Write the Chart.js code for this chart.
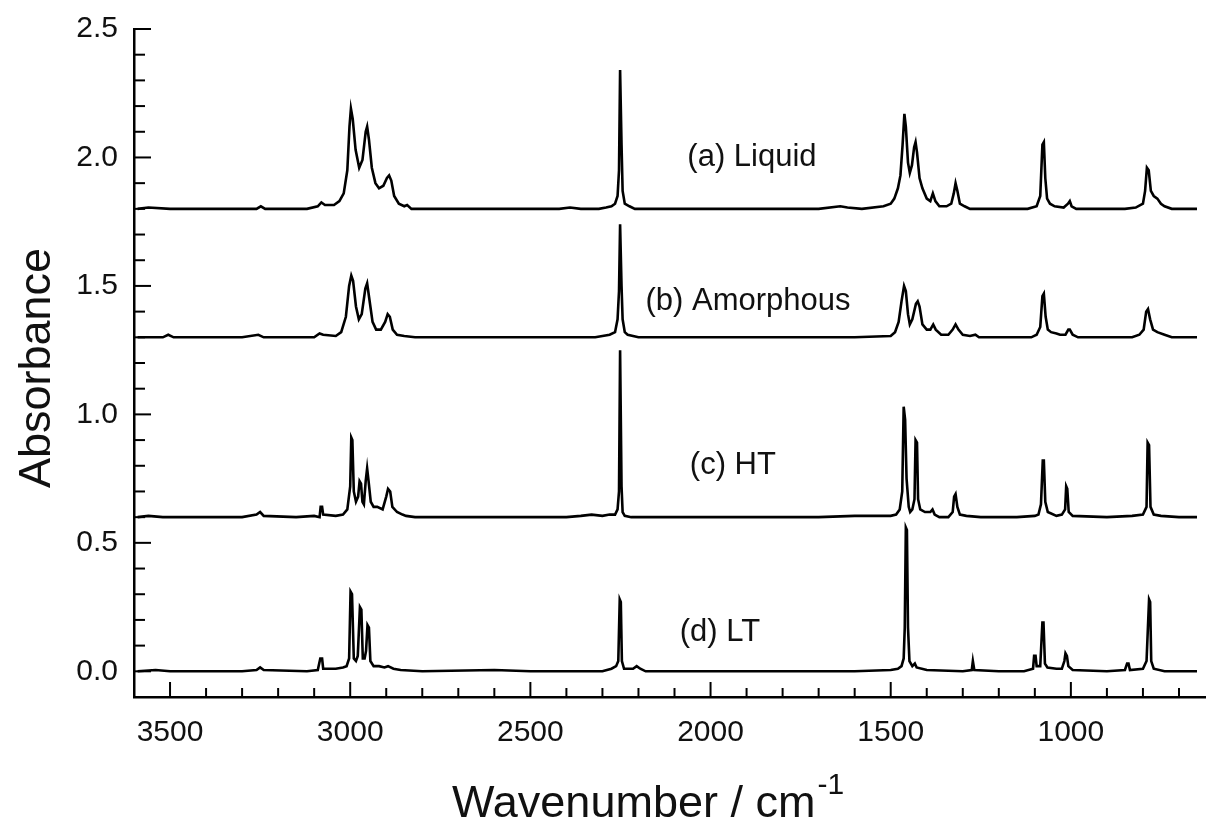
<!DOCTYPE html>
<html>
<head>
<meta charset="utf-8">
<title>Absorbance spectra</title>
<script src="https://cdn.jsdelivr.net/npm/chart.js@4.4.1/dist/chart.umd.min.js"></script>
<style>
  body { margin: 0; background: #fff; }
  #wrap { width: 1206px; height: 831px; }
</style>
</head>
<body>
<div id="wrap"><canvas id="spectraChart" width="1206" height="831"></canvas></div>
<script>
// spectra: wavenumber (cm-1) and absorbance, one pair of arrays per trace
const liquidWn = [3590, 3560, 3500, 3440, 3300, 3260, 3248, 3236, 3120, 3090, 3080, 3070, 3045, 3030, 3018, 3008, 3002, 2998, 2993, 2985, 2975, 2966, 2957, 2953, 2948, 2940, 2930, 2920, 2908, 2898, 2892, 2886, 2878, 2865, 2850, 2842, 2830, 2700, 2600, 2500, 2420, 2390, 2360, 2310, 2290, 2275, 2265, 2258, 2254, 2251, 2249, 2247, 2244, 2238, 2225, 2210, 2000, 1800, 1700, 1640, 1620, 1580, 1520, 1500, 1490, 1480, 1473, 1467, 1462, 1458, 1452, 1447, 1441, 1435, 1431, 1427, 1420, 1412, 1400, 1390, 1383, 1376, 1365, 1345, 1332, 1325, 1320, 1315, 1308, 1295, 1280, 1200, 1120, 1095, 1085, 1079, 1075, 1071, 1066, 1058, 1045, 1020, 1008, 1003, 998, 985, 850, 820, 800, 794, 789, 784, 778, 770, 760, 750, 740, 720, 650];
const liquidAbs = [1.80, 1.805, 1.80, 1.80, 1.80, 1.80, 1.81, 1.80, 1.80, 1.81, 1.825, 1.815, 1.815, 1.83, 1.86, 1.95, 2.12, 2.19, 2.15, 2.03, 1.96, 1.99, 2.10, 2.12, 2.07, 1.96, 1.90, 1.88, 1.89, 1.92, 1.93, 1.91, 1.85, 1.82, 1.81, 1.815, 1.80, 1.80, 1.80, 1.80, 1.80, 1.805, 1.80, 1.80, 1.805, 1.81, 1.82, 1.85, 1.95, 2.34, 2.34, 2.05, 1.87, 1.82, 1.81, 1.80, 1.80, 1.80, 1.80, 1.81, 1.805, 1.80, 1.81, 1.82, 1.84, 1.88, 1.93, 2.05, 2.17, 2.12, 1.98, 1.94, 1.97, 2.04, 2.06, 2.02, 1.92, 1.88, 1.84, 1.83, 1.86, 1.83, 1.81, 1.81, 1.82, 1.86, 1.90, 1.87, 1.82, 1.81, 1.80, 1.80, 1.80, 1.81, 1.85, 2.05, 2.06, 1.92, 1.84, 1.82, 1.81, 1.805, 1.82, 1.83, 1.81, 1.80, 1.80, 1.805, 1.82, 1.87, 1.96, 1.95, 1.87, 1.85, 1.84, 1.82, 1.81, 1.80, 1.80];

const amorphWn = [3590, 3520, 3505, 3490, 3300, 3255, 3240, 3100, 3085, 3075, 3040, 3025, 3012, 3003, 2997, 2992, 2984, 2976, 2968, 2958, 2953, 2947, 2938, 2928, 2915, 2903, 2896, 2890, 2882, 2870, 2850, 2820, 2600, 2400, 2320, 2300, 2280, 2265, 2258, 2254, 2251, 2249, 2247, 2244, 2238, 2230, 2215, 2200, 1900, 1600, 1500, 1488, 1478, 1470, 1463, 1458, 1452, 1447, 1440, 1430, 1425, 1420, 1412, 1400, 1390, 1382, 1375, 1360, 1340, 1328, 1320, 1312, 1300, 1280, 1265, 1255, 1110, 1095, 1085, 1079, 1075, 1070, 1064, 1055, 1040, 1030, 1015, 1007, 1003, 995, 980, 830, 810, 798, 791, 786, 780, 772, 760, 740, 720, 650];
const amorphAbs = [1.30, 1.30, 1.31, 1.30, 1.30, 1.31, 1.30, 1.30, 1.315, 1.31, 1.305, 1.32, 1.38, 1.50, 1.54, 1.52, 1.42, 1.37, 1.39, 1.49, 1.51, 1.45, 1.36, 1.33, 1.33, 1.36, 1.39, 1.38, 1.33, 1.31, 1.305, 1.30, 1.30, 1.30, 1.30, 1.305, 1.31, 1.32, 1.37, 1.48, 1.74, 1.74, 1.50, 1.37, 1.32, 1.31, 1.305, 1.30, 1.30, 1.30, 1.305, 1.32, 1.36, 1.44, 1.50, 1.48, 1.39, 1.35, 1.37, 1.43, 1.44, 1.42, 1.35, 1.33, 1.33, 1.35, 1.33, 1.31, 1.31, 1.33, 1.35, 1.33, 1.31, 1.305, 1.31, 1.30, 1.30, 1.31, 1.34, 1.46, 1.47, 1.38, 1.33, 1.32, 1.315, 1.31, 1.31, 1.33, 1.33, 1.31, 1.30, 1.30, 1.31, 1.33, 1.40, 1.41, 1.37, 1.33, 1.32, 1.31, 1.30, 1.30];

const htWn = [3590, 3560, 3520, 3400, 3300, 3260, 3250, 3240, 3150, 3100, 3085, 3082, 3078, 3075, 3040, 3020, 3008, 3000, 2997, 2994, 2990, 2984, 2978, 2974, 2970, 2966, 2962, 2957, 2953, 2949, 2943, 2935, 2925, 2910, 2900, 2895, 2889, 2883, 2870, 2855, 2845, 2820, 2700, 2500, 2400, 2360, 2330, 2300, 2280, 2265, 2258, 2254, 2251, 2249, 2247, 2244, 2238, 2220, 1900, 1700, 1600, 1500, 1485, 1475, 1468, 1464, 1460, 1456, 1450, 1446, 1440, 1434, 1431, 1427, 1424, 1418, 1405, 1390, 1384, 1378, 1365, 1340, 1328, 1324, 1320, 1315, 1308, 1290, 1250, 1150, 1100, 1090, 1083, 1078, 1075, 1071, 1064, 1040, 1025, 1016, 1013, 1010, 1006, 995, 900, 830, 800, 790, 787, 783, 779, 770, 750, 700, 650];
const htAbs = [0.60, 0.605, 0.60, 0.60, 0.60, 0.61, 0.62, 0.605, 0.60, 0.605, 0.60, 0.64, 0.64, 0.61, 0.605, 0.61, 0.63, 0.72, 0.91, 0.90, 0.70, 0.66, 0.68, 0.74, 0.73, 0.66, 0.65, 0.74, 0.79, 0.74, 0.66, 0.64, 0.64, 0.63, 0.68, 0.71, 0.70, 0.64, 0.62, 0.61, 0.605, 0.60, 0.60, 0.60, 0.60, 0.605, 0.61, 0.605, 0.61, 0.61, 0.63, 0.70, 1.25, 1.25, 0.72, 0.62, 0.605, 0.60, 0.60, 0.60, 0.605, 0.605, 0.61, 0.63, 0.70, 1.03, 0.98, 0.75, 0.64, 0.62, 0.63, 0.67, 0.90, 0.89, 0.67, 0.63, 0.62, 0.62, 0.63, 0.61, 0.60, 0.60, 0.62, 0.68, 0.69, 0.64, 0.61, 0.605, 0.60, 0.60, 0.605, 0.61, 0.65, 0.82, 0.82, 0.66, 0.62, 0.605, 0.61, 0.63, 0.72, 0.71, 0.62, 0.605, 0.60, 0.605, 0.61, 0.64, 0.89, 0.88, 0.64, 0.61, 0.605, 0.60, 0.60];

const ltWn = [3590, 3540, 3500, 3400, 3300, 3260, 3250, 3240, 3120, 3090, 3083, 3078, 3075, 3040, 3020, 3010, 3003, 2999, 2995, 2990, 2984, 2979, 2973, 2969, 2965, 2960, 2956, 2952, 2948, 2944, 2935, 2920, 2905, 2895, 2880, 2860, 2800, 2600, 2500, 2400, 2300, 2275, 2262, 2256, 2252, 2249, 2246, 2240, 2215, 2205, 2195, 2180, 2000, 1800, 1600, 1500, 1480, 1470, 1464, 1461, 1458, 1455, 1452, 1448, 1440, 1433, 1428, 1400, 1300, 1275, 1272, 1268, 1200, 1130, 1105, 1102, 1098, 1095, 1085, 1079, 1076, 1072, 1065, 1040, 1025, 1018, 1015, 1011, 1007, 995, 900, 850, 844, 840, 836, 800, 790, 783, 780, 777, 770, 740, 700, 650];
const ltAbs = [0.00, 0.005, 0.00, 0.00, 0.00, 0.005, 0.015, 0.005, 0.00, 0.005, 0.05, 0.05, 0.01, 0.01, 0.015, 0.02, 0.05, 0.31, 0.30, 0.05, 0.04, 0.06, 0.25, 0.24, 0.05, 0.05, 0.08, 0.18, 0.17, 0.04, 0.02, 0.02, 0.015, 0.02, 0.01, 0.005, 0.00, 0.005, 0.00, 0.00, 0.00, 0.01, 0.02, 0.04, 0.28, 0.27, 0.04, 0.01, 0.01, 0.02, 0.01, 0.00, 0.00, 0.00, 0.00, 0.005, 0.01, 0.02, 0.05, 0.17, 0.56, 0.55, 0.17, 0.04, 0.02, 0.03, 0.015, 0.005, 0.00, 0.005, 0.04, 0.005, 0.00, 0.00, 0.01, 0.06, 0.06, 0.02, 0.02, 0.19, 0.19, 0.03, 0.015, 0.01, 0.01, 0.04, 0.07, 0.06, 0.02, 0.005, 0.00, 0.005, 0.03, 0.03, 0.005, 0.01, 0.04, 0.28, 0.27, 0.04, 0.01, 0.00, 0.00, 0.00];

// trace labels and where they sit (data units)
const traceLabels = ["(a) Liquid", "(b) Amorphous", "(c) HT", "(d) LT"];
const labelWn = [1885, 1896, 1938, 1974];
const labelAbs = [2.0, 1.44, 0.80, 0.15];

// axis ranges and labelled ticks
const xMin = 625, xMax = 3600;
const yMin = -0.1, yMax = 2.5;
const xLabelTicks = [1000, 1500, 2000, 2500, 3000, 3500];

function toPoints(xs, ys) {
  return xs.map((x, i) => ({ x: x, y: ys[i] }));
}

function isHalfStep(v) {
  return Math.abs(v * 2 - Math.round(v * 2)) < 1e-6;
}

// ticks point into the plot, long ones at the labelled values
const inwardTicks = {
  id: "inwardTicks",
  afterDraw(chart) {
    const { ctx, chartArea, scales } = chart;
    ctx.save();
    ctx.strokeStyle = "#000";
    ctx.lineWidth = 2;
    scales.x.ticks.forEach((t) => {
      const px = scales.x.getPixelForValue(t.value);
      const len = t.value % 500 === 0 ? 15 : 9;
      ctx.beginPath();
      ctx.moveTo(px, chartArea.bottom);
      ctx.lineTo(px, chartArea.bottom - len);
      ctx.stroke();
    });
    scales.y.ticks.forEach((t) => {
      if (Math.abs(t.value - yMin) < 1e-6) return;
      const py = scales.y.getPixelForValue(t.value);
      const len = isHalfStep(t.value) ? 17 : 11;
      ctx.beginPath();
      ctx.moveTo(chartArea.left, py);
      ctx.lineTo(chartArea.left + len, py);
      ctx.stroke();
    });
    ctx.restore();
  },
};

// trace names and axis titles
const textLayer = {
  id: "textLayer",
  afterDraw(chart) {
    const { ctx, scales } = chart;
    ctx.save();
    ctx.fillStyle = "#111";
    ctx.font = '31px "Liberation Sans", Arial, sans-serif';
    ctx.textAlign = "center";
    ctx.textBaseline = "middle";
    traceLabels.forEach((txt, i) => {
      ctx.fillText(txt, scales.x.getPixelForValue(labelWn[i]), scales.y.getPixelForValue(labelAbs[i]));
    });

    // y title
    ctx.font = '45px "Liberation Sans", Arial, sans-serif';
    ctx.save();
    ctx.translate(38, 368);
    ctx.rotate(-Math.PI / 2);
    ctx.fillText("Absorbance", 0, 0);
    ctx.restore();

    // x title with superscript
    ctx.textAlign = "left";
    ctx.textBaseline = "alphabetic";
    const main = "Wavenumber / cm";
    const w = ctx.measureText(main).width;
    const startX = 452;
    ctx.fillText(main, startX, 817);
    ctx.font = '30px "Liberation Sans", Arial, sans-serif';
    ctx.fillText("-1", startX + w + 2, 794);
    ctx.restore();
  },
};

const lineStyle = {
  borderColor: "#000",
  borderWidth: 2.6,
  pointRadius: 0,
  tension: 0,
  fill: false,
};

const config = {
  type: "line",
  data: {
    datasets: [
      { label: "Liquid", data: toPoints(liquidWn, liquidAbs), ...lineStyle },
      { label: "Amorphous", data: toPoints(amorphWn, amorphAbs), ...lineStyle },
      { label: "HT", data: toPoints(htWn, htAbs), ...lineStyle },
      { label: "LT", data: toPoints(ltWn, ltAbs), ...lineStyle },
    ],
  },
  options: {
    responsive: false,
    animation: false,
    layout: { padding: { top: 29, right: 0, left: 0, bottom: 0 } },
    plugins: {
      legend: { display: false },
      tooltip: { enabled: false },
    },
    scales: {
      x: {
        type: "linear",
        reverse: true,
        min: xMin,
        max: xMax,
        border: { color: "#000", width: 2.5 },
        grid: { drawOnChartArea: false, drawTicks: false },
        ticks: {
          stepSize: 100,
          includeBounds: false,
          autoSkip: false,
          maxRotation: 0,
          padding: 18,
          color: "#111",
          font: { family: '"Liberation Sans", Arial, sans-serif', size: 30 },
          callback: (v) => (xLabelTicks.includes(v) ? String(v) : ""),
        },
        afterFit: (scale) => {
          scale.height = 134;
          scale.paddingLeft = 0;
          scale.paddingRight = 0;
        },
      },
      y: {
        min: yMin,
        max: yMax,
        border: { color: "#000", width: 2.5 },
        grid: { drawOnChartArea: false, drawTicks: false },
        ticks: {
          stepSize: 0.1,
          autoSkip: false,
          padding: 16,
          color: "#111",
          font: { family: '"Liberation Sans", Arial, sans-serif', size: 30 },
          callback: (v) => (isHalfStep(v) && v >= 0 ? v.toFixed(1) : ""),
        },
        afterFit: (scale) => {
          scale.width = 134;
          scale.paddingTop = 0;
          scale.paddingBottom = 0;
        },
      },
    },
  },
  plugins: [inwardTicks, textLayer],
};

const spectraChart = new Chart(document.getElementById("spectraChart"), config);
</script>
</body>
</html>
